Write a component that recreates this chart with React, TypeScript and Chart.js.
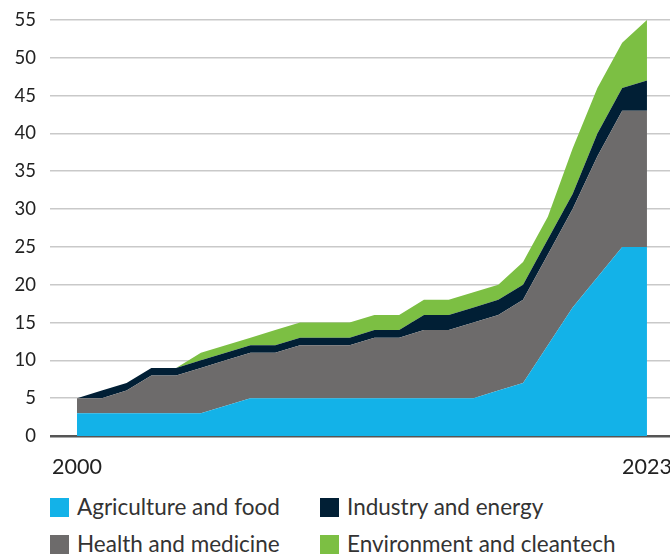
import React, { useEffect, useRef } from "react";
import { Chart, registerables } from "chart.js";

Chart.register(...registerables);

const years = [2000, 2001, 2002, 2003, 2004, 2005, 2006, 2007, 2008, 2009, 2010, 2011, 2012, 2013, 2014, 2015, 2016, 2017, 2018, 2019, 2020, 2021, 2022, 2023];
const agriculture = [3, 3, 3, 3, 3, 3, 4, 5, 5, 5, 5, 5, 5, 5, 5, 5, 5, 6, 7, 12, 17, 21, 25, 25];
const health = [2, 2, 3, 5, 5, 6, 6, 6, 6, 7, 7, 7, 8, 8, 9, 9, 10, 10, 11, 12, 13, 16, 18, 18];
const industry = [0, 1, 1, 1, 1, 1, 1, 1, 1, 1, 1, 1, 1, 1, 2, 2, 2, 2, 2, 2, 2, 3, 3, 4];
const environment = [0, 0, 0, 0, 0, 1, 1, 1, 2, 2, 2, 2, 2, 2, 2, 2, 2, 2, 3, 3, 6, 6, 6, 8];
const xTickLabels = [2000, 2023];
const seriesNames = ["Agriculture and food", "Health and medicine", "Industry and energy", "Environment and cleantech"];
const seriesColors = ["#13b2e8", "#6d6b6b", "#011f35", "#7cbf43"];

const FONT = "Lato, 'Open Sans', sans-serif";

export default function App() {
  const ref = useRef<HTMLCanvasElement>(null);

  useEffect(() => {
    document.body.style.margin = "0";
    const series = [agriculture, health, industry, environment];
    const chart = new Chart(ref.current!, {
      type: "line",
      data: {
        datasets: series.map((vals, i) => ({
          label: seriesNames[i],
          data: vals.map((v, j) => ({ x: years[j], y: v })),
          backgroundColor: seriesColors[i],
          borderColor: seriesColors[i],
          borderWidth: 0,
          pointRadius: 0,
          tension: 0,
          fill: i === 0 ? "origin" : "-1",
        })),
      },
      options: {
        animation: false,
        responsive: false,
        maintainAspectRatio: false,
        layout: { padding: { top: 20, right: 0, left: 0, bottom: 0 } },
        plugins: { legend: { display: false }, tooltip: { enabled: false } },
        scales: {
          x: {
            type: "linear",
            min: 1998.91,
            max: 2023.93,
            grid: { display: false },
            border: { display: false },
            afterBuildTicks: (scale: any) => {
              scale.ticks = xTickLabels.map((v) => ({ value: v }));
            },
            afterFit: (scale: any) => {
              scale.height = 54;
              scale.paddingLeft = 0;
              scale.paddingRight = 0;
            },
            ticks: {
              autoSkip: false,
              maxRotation: 0,
              padding: 10,
              color: "#222",
              font: { family: FONT, size: 21.5 },
              callback: (v: any) => String(v),
            },
          },
          y: {
            stacked: true,
            min: 0,
            max: 55,
            border: { display: false },
            grid: {
              drawTicks: false,
              color: (ctx: any) => (ctx.tick && ctx.tick.value === 0 ? "#555" : "#c9c9c9"),
              lineWidth: (ctx: any) => (ctx.tick && ctx.tick.value === 0 ? 2.5 : 1.6),
            },
            afterFit: (scale: any) => {
              scale.width = 50;
              scale.paddingTop = 0;
              scale.paddingBottom = 0;
            },
            ticks: {
              stepSize: 5,
              padding: 14,
              color: "#222",
              font: { family: FONT, size: 18.5 },
            },
          },
        },
      },
    });
    return () => chart.destroy();
  }, []);

  const legendItem = (i: number, left: number, top: number) => (
    <div
      key={i}
      style={{ position: "absolute", left, top, display: "flex", alignItems: "center", height: 19 }}
    >
      <div style={{ width: 19, height: 19, background: seriesColors[i], marginRight: 8, flexShrink: 0 }} />
      <span style={{ fontFamily: FONT, fontSize: 22.5, color: "#333", lineHeight: "19px", whiteSpace: "nowrap", position: "relative", top: -1 }}>
        {seriesNames[i]}
      </span>
    </div>
  );

  return (
    <div style={{ position: "absolute", left: 0, top: 0, width: 670, height: 558 }}>
      <canvas ref={ref} width={670} height={490} style={{ position: "absolute", left: 0, top: 0, width: 670, height: 490 }} />
      {legendItem(0, 50, 498)}
      {legendItem(2, 320, 498)}
      {legendItem(1, 50, 535)}
      {legendItem(3, 320, 535)}
    </div>
  );
}
